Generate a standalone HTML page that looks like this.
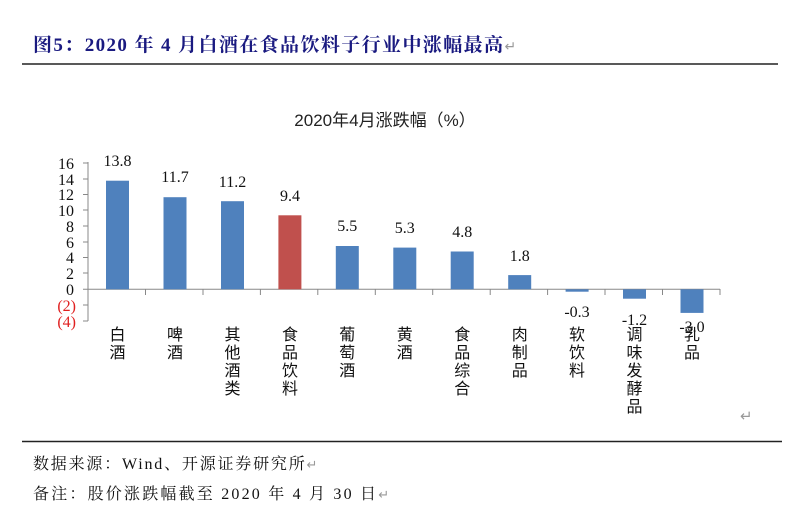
<!DOCTYPE html>
<html><head><meta charset="utf-8"><style>
body{margin:0;background:#fff;width:800px;height:528px;overflow:hidden}
svg{display:block}
</style></head><body>
<svg width="800" height="528" xmlns="http://www.w3.org/2000/svg">
<text x="33" y="51" font-family="'Liberation Serif','Noto Serif CJK SC',serif" font-weight="bold" font-size="19" letter-spacing="1.4" fill="#1a1a80">图5：2020 年 4 月白酒在食品饮料子行业中涨幅最高<tspan fill="#999" font-weight="normal" font-size="14">↵</tspan></text>
<line x1="22" y1="64" x2="778" y2="64" stroke="#222" stroke-width="1.5"/>
<text x="385" y="126" text-anchor="middle" font-family="'Liberation Sans','Noto Sans CJK SC',sans-serif" font-size="17" fill="#222">2020年4月涨跌幅（%）</text>
<g font-family="'Liberation Serif',serif" font-size="16" fill="#111" text-anchor="end">
<text x="74" y="169">16</text><text x="74" y="185">14</text><text x="74" y="200">12</text><text x="74" y="216">10</text>
<text x="74" y="232">8</text><text x="74" y="248">6</text><text x="74" y="263">4</text><text x="74" y="279">2</text><text x="74" y="295">0</text>
<text x="76" y="311" fill="#e02020">(2)</text><text x="76" y="327" fill="#e02020">(4)</text>
</g>
<g stroke="#888" stroke-width="1">
<line x1="88" y1="162" x2="88" y2="321"/>
<line x1="83" y1="163" x2="88" y2="163"/><line x1="83" y1="179" x2="88" y2="179"/><line x1="83" y1="194.5" x2="88" y2="194.5"/><line x1="83" y1="210" x2="88" y2="210"/><line x1="83" y1="226" x2="88" y2="226"/><line x1="83" y1="242" x2="88" y2="242"/><line x1="83" y1="257.5" x2="88" y2="257.5"/><line x1="83" y1="273" x2="88" y2="273"/><line x1="83" y1="305" x2="88" y2="305"/><line x1="83" y1="321" x2="88" y2="321"/>
<line x1="83" y1="289.3" x2="720" y2="289.3"/>
<line x1="145.5" y1="289" x2="145.5" y2="295"/><line x1="203" y1="289" x2="203" y2="295"/><line x1="260.4" y1="289" x2="260.4" y2="295"/><line x1="317.8" y1="289" x2="317.8" y2="295"/><line x1="375.3" y1="289" x2="375.3" y2="295"/><line x1="432.7" y1="289" x2="432.7" y2="295"/><line x1="490.2" y1="289" x2="490.2" y2="295"/><line x1="547.6" y1="289" x2="547.6" y2="295"/><line x1="605" y1="289" x2="605" y2="295"/><line x1="662.5" y1="289" x2="662.5" y2="295"/><line x1="720" y1="289" x2="720" y2="295"/>
</g>
<g fill="#4f81bd">
<rect x="106" y="180.7" width="23" height="108.6"/>
<rect x="163.5" y="197.2" width="23" height="92.1"/>
<rect x="221" y="201.2" width="23" height="88.1"/>
<rect x="278.4" y="215.3" width="23" height="74" fill="#c0504d"/>
<rect x="335.8" y="246" width="23" height="43.3"/>
<rect x="393.3" y="247.6" width="23" height="41.7"/>
<rect x="450.7" y="251.5" width="23" height="37.8"/>
<rect x="508.2" y="275.1" width="23" height="14.2"/>
<rect x="565.6" y="289.3" width="23" height="2.4"/>
<rect x="623" y="289.3" width="23" height="9.4"/>
<rect x="680.5" y="289.3" width="23" height="23.6"/>
</g>
<g font-family="'Liberation Serif',serif" font-size="16" fill="#111" text-anchor="middle">
<text x="117.5" y="166">13.8</text><text x="175" y="182">11.7</text><text x="232.5" y="187">11.2</text><text x="290" y="201">9.4</text>
<text x="347.3" y="231">5.5</text><text x="404.8" y="233">5.3</text><text x="462.2" y="237">4.8</text><text x="519.7" y="261">1.8</text>
<text x="577" y="317">-0.3</text><text x="634.5" y="325">-1.2</text><text x="692" y="332">-3.0</text>
</g>
<g font-family="'Noto Sans CJK SC',sans-serif" font-size="16" fill="#111" text-anchor="middle">
<text x="117.5" y="340">白</text><text x="117.5" y="358">酒</text>
<text x="175" y="340">啤</text><text x="175" y="358">酒</text>
<text x="232.5" y="340">其</text><text x="232.5" y="358">他</text><text x="232.5" y="376">酒</text><text x="232.5" y="394">类</text>
<text x="290" y="340">食</text><text x="290" y="358">品</text><text x="290" y="376">饮</text><text x="290" y="394">料</text>
<text x="347.3" y="340">葡</text><text x="347.3" y="358">萄</text><text x="347.3" y="376">酒</text>
<text x="404.8" y="340">黄</text><text x="404.8" y="358">酒</text>
<text x="462.2" y="340">食</text><text x="462.2" y="358">品</text><text x="462.2" y="376">综</text><text x="462.2" y="394">合</text>
<text x="519.7" y="340">肉</text><text x="519.7" y="358">制</text><text x="519.7" y="376">品</text>
<text x="577" y="340">软</text><text x="577" y="358">饮</text><text x="577" y="376">料</text>
<text x="634.5" y="340">调</text><text x="634.5" y="358">味</text><text x="634.5" y="376">发</text><text x="634.5" y="394">酵</text><text x="634.5" y="412">品</text>
<text x="692" y="340">乳</text><text x="692" y="358">品</text>
</g>
<text x="740" y="421" font-family="'DejaVu Sans',sans-serif" font-size="15" fill="#999">↵</text>
<line x1="22" y1="441.5" x2="782" y2="441.5" stroke="#222" stroke-width="1.5"/>
<text x="33" y="469" font-family="'Liberation Serif','Noto Serif CJK SC',serif" font-size="16" letter-spacing="1.8" fill="#111">数据来源：Wind、开源证券研究所<tspan fill="#999" font-size="13">↵</tspan></text>
<text x="33" y="499" font-family="'Liberation Serif','Noto Serif CJK SC',serif" font-size="16" letter-spacing="2.2" fill="#111">备注：股价涨跌幅截至 2020 年 4 月 30 日<tspan fill="#999" font-size="13">↵</tspan></text>
</svg>
</body></html>
